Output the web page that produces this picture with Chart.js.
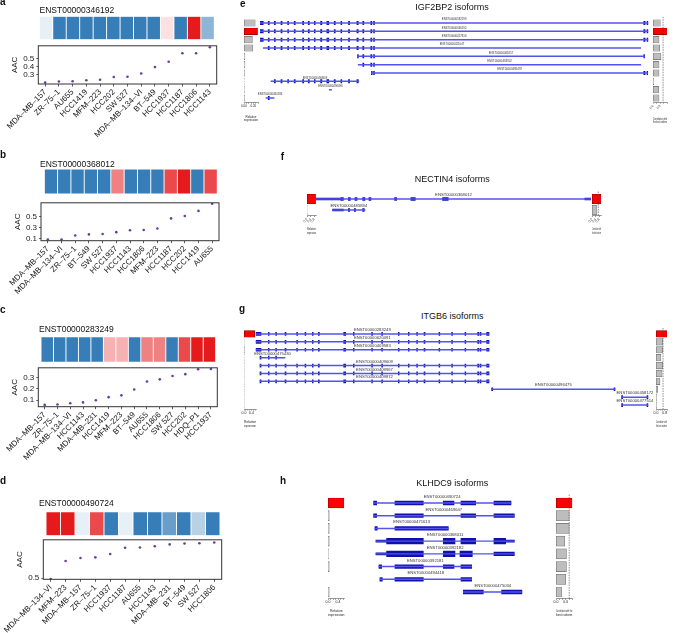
<!DOCTYPE html>
<html>
<head>
<meta charset="utf-8">
<script src="https://cdn.jsdelivr.net/npm/chart.js@4.4.1/dist/chart.umd.min.js"></script>
<style>
  body { margin: 0; background: #fff; width: 675px; height: 633px; position: relative; overflow: hidden;
         font-family: "Liberation Sans", Arial, sans-serif; }
  canvas { position: absolute; }
  .txt { position: absolute; white-space: nowrap; line-height: 1; color: #111; }
</style>
</head>
<body>
<script>
// ---- left panels: AAC per cell line + isoform expression strip ----
const cellsA = ['MDA–MB–157', 'ZR–75–1', 'AU655', 'HCC1419', 'MFM–223', 'HCC202', 'SW 527', 'MDA–MB–134–VI', 'BT–549', 'HCC1937', 'HCC1187', 'HCC1806', 'HCC1143'];
const aacA = [0.209, 0.22, 0.224, 0.235, 0.242, 0.275, 0.278, 0.318, 0.395, 0.46, 0.562, 0.562, 0.635];
const exprA = [-0.12, -1, -1, -1, -1, -1, -1, -1, -1, 0.13, -1, 1, -0.57];
const ticksA = [0.3, 0.4, 0.5];

const cellsB = ['MDA–MB–157', 'MDA–MB–134–VI', 'ZR–75–1', 'BT–549', 'SW 527', 'HCC1937', 'HCC1143', 'HCC1806', 'MFM–223', 'HCC1187', 'HCC202', 'HCC1419', 'AU655'];
const aacB = [0.089, 0.089, 0.16, 0.18, 0.187, 0.22, 0.253, 0.258, 0.286, 0.466, 0.51, 0.6, 0.728];
const exprB = [-1, -1, -1, -1, -1, 0.55, -1, -1, -1, 0.79, 1, -1, 0.79];
const ticksB = [0.1, 0.3, 0.5];

const cellsC = ['MDA–MB–157', 'ZR–75–1', 'MDA–MB–134–VI', 'HCC1143', 'MDA–MB–231', 'HCC1419', 'MFM–223', 'BT–549', 'AU655', 'HCC1806', 'SW 527', 'HCC202', 'HDQ–P1', 'HCC1937'];
const aacC = [0.059, 0.062, 0.073, 0.081, 0.1, 0.127, 0.143, 0.195, 0.265, 0.284, 0.314, 0.33, 0.373, 0.376];
const exprC = [-1, -1, -1, -1, -1, 0.34, 0.34, -1, 0.55, 0.55, -1, 0.79, 1, 1];
const ticksC = [0.1, 0.2, 0.3];

const cellsD = ['MDA–MB–134–VI', 'MFM–223', 'MDA–MB–157', 'ZR–75–1', 'HCC1937', 'HCC1187', 'AU655', 'HCC1143', 'MDA–MB–231', 'BT–549', 'SW 527', 'HCC1806'];
const aacD = [0.488, 0.715, 0.754, 0.762, 0.805, 0.883, 0.887, 0.902, 0.926, 0.937, 0.941, 0.949];
const exprD = [1, 1, -0.12, 0.79, -1, -0.12, -1, -1, -0.75, -1, -0.36, -1];
const ticksD = [0.5];

// ---- right panels: isoform structures (positions in kb, KLHDC9 in bp) ----
const igfTx = ['ENST00000382199', 'ENST00000346192', 'ENST00000457616', 'ENST00000421047', 'ENST00000461857', 'ENST00000493302', 'ENST00000498478', 'ENST00000494809', 'ENST00000496496', 'ENST00000484186'];
const igfStart = [0, 0, 0, 1.5, 45.1, 45.4, 51.5, 5.1, 32, 2.8];
const igfEnd = [179.5, 179.5, 179.5, 176, 177.7, 176, 179.2, 45.7, 33.1, 6.5];
const igfExons = [[0, 1.5], [3.8, 4.3], [6.6, 7.1], [9.7, 10.2], [12.8, 13.2], [15.8, 16.3], [19.7, 20.2], [22.3, 22.8], [25.1, 25.5], [28, 28.6], [30.9, 31.8], [34.3, 34.8], [37.4, 37.8], [40.9, 41.4], [44.8, 45.4], [47.5, 48], [51.2, 51.7], [52.5, 52.9], [177.4, 178], [178.9, 179.5]];
const igfExpr = [0.24, 0.29, 0.18, 0.19, 0.02, 0.02, 0.015, 0.005, 0.01, 0.015];
const igfCorr = [0.52, 1, 0.43, 0.48, 0.57, 0.43, 0.43, 0.05, 0.4, 0.43];

const nectinTx = ['ENST00000368012', 'ENST00000485894'];
const nectinStart = [0, 2.17];
const nectinEnd = [35.9, 6.4];
const nectinUtr = [[0, 0, 3.26], [0, 35.1, 35.9], [1, 2.17, 3.57]];
const nectinExons = [[0, 3.26, 3.57], [0, 4.22, 4.48], [0, 5.09, 5.35], [0, 6.09, 6.39], [0, 6.91, 7.17], [0, 10.26, 10.52], [0, 12.39, 12.96], [0, 16.52, 17.26], [1, 4.22, 4.39], [1, 5.0, 5.17], [1, 6.09, 6.3]];
const nectinExpr = [0.95, 0.01];
const nectinCorr = [1, 0.55];

const itgbTx = ['ENST00000283249', 'ENST00000620091', 'ENST00000409583', 'ENST00000475430', 'ENST00000409609', 'ENST00000409967', 'ENST00000409872', 'ENST00000496475', 'ENST00000458172', 'ENST00000477514'];
const itgbStart = [0, 0, 0, 1.3, 1.3, 1.3, 1.3, 70.8, 109.8, 109.8];
const itgbEnd = [70, 70, 70, 8.8, 70, 70, 70, 107.8, 117.8, 117.8];
const itgbExons = [[0, 1.6], [3.8, 4.0], [6, 6.2], [8.8, 9.1], [12.3, 12.5], [14.8, 15], [17, 17.2], [18.8, 19.1], [26.4, 27], [29.3, 29.5], [34.8, 35], [37.8, 38], [42.8, 43], [45.8, 46], [48.3, 48.5], [50.5, 50.8], [55, 55.2], [58.8, 59], [62.8, 63], [66.6, 66.9], [67.3, 67.6], [69.3, 70], [70.8, 71.1], [107.5, 107.8], [109.8, 110.1], [117.4, 117.8]];
const itgbExpr = [0.57, 0.01, 0.03, 0.005, 0.005, 0.005, 0.005, 0.005, 0.003, 0.005];
const itgbCorr = [1, 0.6, 0.6, 0.45, 0.6, 0.55, 0.36, 0.15, 0.06, 0.06];

const klhTx = ['ENST00000490724', 'ENST00000469647', 'ENST00000471613', 'ENST00000368011', 'ENST00000392182', 'ENST00000392181', 'ENST00000494418', 'ENST00000475034'];
const klhStart = [0, 0, 50, 80, 80, 170, 200, 2700];
const klhEnd = [4130, 4230, 2250, 4230, 4230, 2950, 2950, 4470];
const klhUtr = [[3, 80, 400], [3, 3970, 4230], [4, 80, 400]];
const klhExons = [[0, 0, 100], [0, 650, 1500], [0, 2100, 2420], [0, 2630, 3070], [0, 3620, 4130],
  [1, 0, 100], [1, 650, 1500], [1, 2630, 3070], [1, 3620, 4230],
  [2, 50, 120], [2, 650, 2250],
  [4, 3620, 4230],
  [5, 170, 250], [5, 650, 1500], [5, 2100, 2420], [5, 2630, 2950],
  [6, 200, 270], [6, 650, 1500], [6, 2630, 2950],
  [7, 2700, 3300], [7, 3850, 4470]];
const klhBig = [[3, 400, 1500], [3, 2100, 2450], [3, 2630, 3070], [3, 3620, 3970], [4, 400, 1500], [4, 2100, 2450], [4, 2600, 2970]];
const klhExpr = [0.64, 0.05, 0.05, 0.05, 0.02, 0.05, 0.01, 0.05];
const klhCorr = [1, 0.81, 0.81, 0.54, 0.64, 0.64, 0.6, 0.34];

Chart.defaults.font.family = '"Liberation Sans", Arial, sans-serif';
Chart.defaults.color = '#1a1a1a';
Chart.defaults.animation = false;
Chart.defaults.responsive = false;
Chart.defaults.plugins.legend.display = false;
Chart.defaults.plugins.tooltip.enabled = false;

const FONT = '"Liberation Sans", Arial, sans-serif';

function text(str, x, y, size, opts = {}) {
  const d = document.createElement('div');
  d.className = 'txt';
  d.textContent = str;
  d.style.left = x + 'px';
  d.style.top = y + 'px';
  d.style.fontSize = size + 'px';
  if (opts.bold) d.style.fontWeight = 'bold';
  if (opts.center) d.style.transform = 'translateX(-50%)';
  document.body.appendChild(d);
}

// puts a canvas so that the chart area lands on box (page coords)
function mount(box, m, yW, xH) {
  const left = Math.floor(box.l - m.l), top = Math.floor(box.t - m.t);
  const right = Math.min(675, Math.ceil(box.r + m.r)), bottom = Math.ceil(box.b + m.b);
  const c = document.createElement('canvas');
  c.width = right - left;
  c.height = bottom - top;
  c.style.left = left + 'px';
  c.style.top = top + 'px';
  document.body.appendChild(c);
  return { canvas: c, padding: { left: box.l - left - yW, top: box.t - top, right: right - box.r, bottom: bottom - box.b - xH } };
}

function heatColor(v) {
  const c = v < 0 ? [55, 126, 184] : [228, 26, 28];
  const t = Math.abs(v);
  const mix = (k) => Math.round(255 + (c[k] - 255) * t);
  return `rgb(${mix(0)},${mix(1)},${mix(2)})`;
}

const frame = {
  id: 'frame',
  afterDraw(chart) {
    const { ctx, chartArea: a } = chart;
    ctx.save();
    ctx.strokeStyle = '#333';
    ctx.lineWidth = 1;
    ctx.strokeRect(a.left, a.top, a.right - a.left, a.bottom - a.top);
    ctx.restore();
  }
};

function scatterPanel(p) {
  const hm = mount(p.heat, { l: 0, t: 0, r: 0, b: 0 }, 0, 0);
  new Chart(hm.canvas, {
    type: 'bar',
    data: {
      labels: p.cells,
      datasets: [{
        data: p.expr.map(() => 1),
        backgroundColor: p.expr.map(heatColor),
        borderColor: 'rgba(255,255,255,0.28)',
        borderWidth: 0.8,
        borderSkipped: false,
        barPercentage: 1,
        categoryPercentage: 1
      }]
    },
    options: {
      layout: { padding: hm.padding },
      scales: { x: { display: false }, y: { display: false, min: 0, max: 1 } }
    }
  });

  const sc = mount(p.plot, { l: 42, t: 3, r: 4, b: 70 }, 36, 70);
  new Chart(sc.canvas, {
    type: 'line',
    data: {
      labels: p.cells,
      datasets: [{
        data: p.aac,
        showLine: false,
        pointRadius: 1.3,
        pointBackgroundColor: '#6a3d9a',
        pointBorderWidth: 0
      }]
    },
    options: {
      layout: { padding: sc.padding },
      scales: {
        x: {
          offset: true,
          grid: { drawOnChartArea: false, tickLength: 2.5, color: '#333', lineWidth: 0.8 },
          border: { display: false },
          ticks: { minRotation: 45, maxRotation: 45, autoSkip: false, font: { size: 8 }, padding: 1 },
          afterFit(s) { s.height = 70; }
        },
        y: {
          min: p.range[0],
          max: p.range[1],
          afterBuildTicks(s) { s.ticks = p.yTicks.map(v => ({ value: v })); },
          ticks: { font: { size: 8 }, padding: 2, callback: v => v.toFixed(1) },
          grid: { drawOnChartArea: false, tickLength: 2, color: '#333', lineWidth: 0.8 },
          border: { display: false },
          title: { display: true, text: 'AAC', font: { size: 8 }, padding: { top: 8, bottom: 0 } },
          afterFit(s) { s.width = 36; }
        }
      }
    },
    plugins: [frame]
  });
}

function rowsOf(list, tx) {
  return list.map(([i, s, e]) => ({ y: tx[i], x: [s, e] }));
}

// shared exon list clipped to each transcript's span
function clipExons(exons, start, end) {
  const out = [];
  start.forEach((s, i) => {
    exons.forEach(([a, b]) => {
      const lo = Math.max(a, s), hi = Math.min(b, end[i]);
      if (hi > lo) out.push([i, lo, hi]);
    });
  });
  return out;
}

function genePanel(g) {
  const mm = mount(g.area, { l: 8, t: 9, r: 8, b: 2 }, 0, 0);
  const datasets = [
    { data: g.tx.map((n, i) => ({ y: n, x: [g.start[i], g.end[i]] })), backgroundColor: '#5252f0', barThickness: 0.8, grouped: false },
    { data: rowsOf(g.utr || [], g.tx), backgroundColor: '#1010ad', barThickness: g.utrH, grouped: false },
    { data: rowsOf(g.exons, g.tx), backgroundColor: '#1010ad', barThickness: g.exonH, minBarLength: 0.8, grouped: false },
    { data: rowsOf(g.big || [], g.tx), backgroundColor: '#1010ad', barThickness: g.bigH || 5, grouped: false }
  ];
  new Chart(mm.canvas, {
    type: 'bar',
    data: { labels: g.tx, datasets },
    options: {
      indexAxis: 'y',
      layout: { padding: mm.padding },
      scales: {
        x: { type: 'linear', display: false, min: g.min, max: g.max },
        y: { display: false }
      }
    },
    plugins: [{
      id: 'txLabels',
      afterDatasetsDraw(chart) {
        const { ctx, scales: { x, y } } = chart;
        ctx.save();
        ctx.font = `${g.labelSize}px ${FONT}`;
        ctx.fillStyle = '#333';
        ctx.textAlign = 'center';
        ctx.textBaseline = 'bottom';
        g.tx.forEach((n, i) => {
          ctx.fillText(n, x.getPixelForValue((g.start[i] + g.end[i]) / 2), y.getPixelForValue(i) - g.gap);
        });
        ctx.restore();
      }
    }]
  });
}

function vline(v) {
  return {
    id: 'vline',
    afterDatasetsDraw(chart) {
      const { ctx, chartArea: a, scales: { x } } = chart;
      const px = x.getPixelForValue(v);
      ctx.save();
      ctx.strokeStyle = '#444';
      ctx.lineWidth = 0.6;
      ctx.setLineDash([1.5, 1]);
      ctx.beginPath();
      ctx.moveTo(px, a.top - 2);
      ctx.lineTo(px, a.bottom);
      ctx.stroke();
      ctx.restore();
    }
  };
}

function sidePanel(p, tx, values, best) {
  const mm = mount(p.area, { l: 10, t: 3, r: 10, b: p.axisH }, 0, p.axisH);
  new Chart(mm.canvas, {
    type: 'bar',
    data: {
      labels: tx,
      datasets: [{
        data: values,
        backgroundColor: values.map((v, i) => i === best ? '#ff0000' : '#bdbdbd'),
        borderColor: values.map((v, i) => i === best ? '#8a0000' : '#6e6e6e'),
        borderWidth: 0.6,
        borderSkipped: false,
        barThickness: p.thick
      }]
    },
    options: {
      indexAxis: 'y',
      layout: { padding: mm.padding },
      scales: {
        y: { display: false },
        x: {
          min: 0,
          max: p.max,
          afterBuildTicks(s) { s.ticks = p.ticks.map(v => ({ value: v })); },
          ticks: {
            font: { size: p.font }, padding: 0.5, autoSkip: false,
            minRotation: p.rot, maxRotation: p.rot,
            callback: v => p.show.includes(v) ? v.toFixed(p.dec) : ''
          },
          grid: { drawOnChartArea: false, tickLength: 1.5, lineWidth: 0.5, color: '#333' },
          border: { color: '#333', width: 0.5 },
          title: { display: true, text: p.title, font: { size: p.font }, padding: { top: 1, bottom: 0 } },
          afterFit(s) { s.height = p.axisH; }
        }
      }
    },
    plugins: p.line != null ? [vline(p.line)] : []
  });
}

// ---- left column ----
scatterPanel({ cells: cellsA, aac: aacA, expr: exprA, yTicks: ticksA, range: [0.19, 0.653],
  heat: { l: 39.3, t: 16.3, r: 214.3, b: 39.7 }, plot: { l: 38.3, t: 42, r: 216.7, b: 84 } });
scatterPanel({ cells: cellsB, aac: aacB, expr: exprB, yTicks: ticksB, range: [0.067, 0.745],
  heat: { l: 44.3, t: 169, r: 217.3, b: 194 }, plot: { l: 41, t: 199.3, r: 219, b: 240.7 } });
scatterPanel({ cells: cellsC, aac: aacC, expr: exprC, yTicks: ticksC, range: [0.043, 0.386],
  heat: { l: 41, t: 336.7, r: 215.7, b: 362.3 }, plot: { l: 38.3, t: 364.3, r: 217.3, b: 406.7 } });
scatterPanel({ cells: cellsD, aac: aacD, expr: exprD, yTicks: ticksD, range: [0.484, 0.984],
  heat: { l: 46, t: 511.7, r: 220, b: 535.7 }, plot: { l: 43.3, t: 536.7, r: 221.7, b: 579.3 } });

text('ENST00000346192', 39.5, 5.5, 8.5);
text('ENST00000368012', 40, 159.8, 8.5);
text('ENST00000283249', 39, 325, 8.5);
text('ENST00000490724', 39, 498.5, 8.5);

// ---- right column ----
genePanel({ tx: igfTx, start: igfStart, end: igfEnd, exons: clipExons(igfExons, igfStart, igfEnd),
  min: 0, max: 179.5, area: { l: 260, r: 648.3, t: 18.8, b: 102.2 }, exonH: 3.3, labelSize: 2.8, gap: 2 });
sidePanel({ area: { l: 244, r: 258, t: 18.8, b: 102.2 }, max: 0.3, ticks: [0, 0.05, 0.1, 0.15, 0.2, 0.25, 0.3], show: [0, 0.2], dec: 2,
  rot: 0, thick: 6.5, font: 3, axisH: 20, title: ['Relative', 'expression'] }, igfTx, igfExpr, 1);
sidePanel({ area: { l: 653, r: 667, t: 18.8, b: 102.2 }, max: 1, ticks: [0, 0.25, 0.5, 0.75, 1], show: [0, 0.5], dec: 1,
  rot: 45, thick: 6.5, font: 3, axisH: 22, line: 0.72, title: ['Correlation with', 'the best isoform'] }, igfTx, igfCorr, 1);

genePanel({ tx: nectinTx, start: nectinStart, end: nectinEnd, utr: nectinUtr, exons: nectinExons,
  min: 0, max: 35.9, area: { l: 316, r: 591, t: 193.5, b: 215.5 }, utrH: 1.8, exonH: 2.8, labelSize: 4.2, gap: 2.5 });
sidePanel({ area: { l: 307, r: 316, t: 193.5, b: 215.5 }, max: 1, ticks: [0, 0.4, 0.8], show: [0, 0.4, 0.8], dec: 1,
  rot: 45, thick: 9.5, font: 3.3, axisH: 20, title: ['Relative', 'expression'] }, nectinTx, nectinExpr, 0);
sidePanel({ area: { l: 592, r: 601, t: 193.5, b: 215.5 }, max: 1, ticks: [0, 0.4, 0.8], show: [0, 0.4, 0.8], dec: 1,
  rot: 45, thick: 9.5, font: 3.3, axisH: 20, line: 0.7, title: ['Correlation with', 'the best isoform'] }, nectinTx, nectinCorr, 0);

genePanel({ tx: itgbTx, start: itgbStart, end: itgbEnd, exons: clipExons(itgbExons, itgbStart, itgbEnd),
  min: 0, max: 117.8, area: { l: 255.7, r: 648.3, t: 330, b: 409 }, exonH: 3, labelSize: 4.2, gap: 2 });
sidePanel({ area: { l: 244, r: 256, t: 330, b: 409 }, max: 0.64, ticks: [0, 0.1, 0.2, 0.3, 0.4, 0.5, 0.6], show: [0, 0.4], dec: 1,
  rot: 0, thick: 6.5, font: 3.5, axisH: 19, title: ['Relative', 'expression'] }, itgbTx, itgbExpr, 0);
sidePanel({ area: { l: 656, r: 667, t: 330, b: 409 }, max: 1, ticks: [0, 0.2, 0.4, 0.6, 0.8, 1], show: [0, 0.8], dec: 1,
  rot: 0, thick: 6.5, font: 3.5, axisH: 19, line: 0.64, title: ['Correlation with', 'the best isoform'] }, itgbTx, itgbCorr, 0);

genePanel({ tx: klhTx, start: klhStart, end: klhEnd, utr: klhUtr, exons: klhExons, big: klhBig,
  min: 0, max: 4470, area: { l: 373.3, r: 522.3, t: 496.6, b: 598.4 }, utrH: 2.3, exonH: 3.7, bigH: 5.7, labelSize: 4.2, gap: 4 });
sidePanel({ area: { l: 328, r: 344.5, t: 496.6, b: 598.4 }, max: 0.66, ticks: [0, 0.1, 0.2, 0.3, 0.4, 0.5, 0.6], show: [0, 0.4], dec: 1,
  rot: 0, thick: 10, font: 3.5, axisH: 19, title: ['Relative', 'expression'] }, klhTx, klhExpr, 0);
sidePanel({ area: { l: 556, r: 572.3, t: 496.6, b: 598.4 }, max: 1, ticks: [0, 0.2, 0.4, 0.6, 0.8, 1], show: [0, 0.6], dec: 1,
  rot: 0, thick: 10, font: 3.5, axisH: 19, line: 0.81, title: ['Correlation with the', 'best isoform'] }, klhTx, klhCorr, 0);

text('IGF2BP2 isoforms', 452, 2.9, 9, { center: true });
text('NECTIN4 isoforms', 452.3, 174.7, 9, { center: true });
text('ITGB6 isoforms', 452.3, 311.7, 9, { center: true });
text('KLHDC9 isoforms', 452.3, 479.4, 9, { center: true });

// panel letters
text('a', 0, -3.5, 10, { bold: true });
text('b', 0, 150.4, 10, { bold: true });
text('c', 0, 304.5, 10, { bold: true });
text('d', 0, 475.8, 10, { bold: true });
text('e', 240, -1.2, 10, { bold: true });
text('f', 280.7, 152.2, 10, { bold: true });
text('g', 239, 303.7, 10, { bold: true });
text('h', 280, 475.5, 10, { bold: true });
</script>
</body>
</html>
